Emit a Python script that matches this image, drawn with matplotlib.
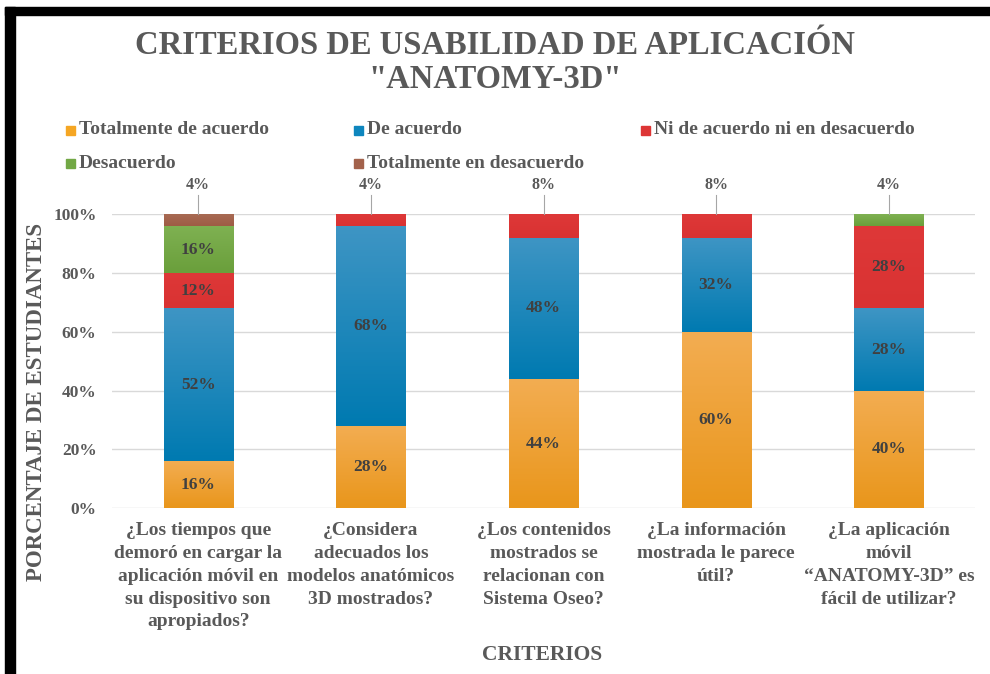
import numpy as np
import matplotlib.pyplot as plt
from matplotlib.colors import LinearSegmentedColormap
from matplotlib.patches import Rectangle

plt.rcParams['font.family'] = ['Liberation Serif', 'DejaVu Serif']
plt.rcParams['font.weight'] = 'bold'

criterios = [
    '¿Los tiempos que\ndemoró en cargar la\naplicación móvil en\nsu dispositivo son\napropiados?',
    '¿Considera\nadecuados los\nmodelos anatómicos\n3D mostrados?',
    '¿Los contenidos\nmostrados se\nrelacionan con\nSistema Oseo?',
    '¿La información\nmostrada le parece\nútil?',
    '¿La aplicación\nmóvil\n“ANATOMY-3D” es\nfácil de utilizar?',
]
series_names = ['Totalmente de acuerdo', 'De acuerdo', 'Ni de acuerdo ni en desacuerdo',
                'Desacuerdo', 'Totalmente en desacuerdo']
totalmente_acuerdo = [16, 28, 44, 60, 40]
de_acuerdo = [52, 68, 48, 32, 28]
ni_acuerdo = [12, 4, 8, 8, 28]
desacuerdo = [16, 0, 0, 0, 4]
totalmente_desacuerdo = [4, 0, 0, 0, 0]
y_ticks = [0, 20, 40, 60, 80, 100]

series = [totalmente_acuerdo, de_acuerdo, ni_acuerdo, desacuerdo, totalmente_desacuerdo]
# (top colour, bottom colour) for the vertical gradient of each series
grad_colors = [('#F3AD52', '#E9961B'), ('#3E95C4', '#007AB1'), ('#DE3838', '#D93232'),
               ('#7FB152', '#6A9F3B'), ('#A86A53', '#9E5C45')]
flat_colors = ['#F5A623', '#0E86BE', '#DD3535', '#72A845', '#A3624B']
text_gray = '#595959'
label_gray = '#404040'

fig = plt.figure(figsize=(9.9, 6.74), dpi=100)
ax = fig.add_axes([0.113, 0.246, 0.872, 0.436])

x = np.arange(len(criterios))
width = 0.4
bottom = np.zeros(len(criterios))
grad = np.linspace(0, 1, 100).reshape(-1, 1)

for k, vals in enumerate(series):
    vals = np.array(vals, dtype=float)
    bars = ax.bar(x, vals, width, bottom=bottom, color=flat_colors[k], zorder=2)
    cmap = LinearSegmentedColormap.from_list('g%d' % k, [grad_colors[k][1], grad_colors[k][0]])
    for rect in bars:
        h = rect.get_height()
        if h <= 0:
            continue
        x0 = rect.get_x()
        y0 = rect.get_y()
        im = ax.imshow(grad, extent=[x0, x0 + rect.get_width(), y0, y0 + h],
                       origin='lower', aspect='auto', cmap=cmap, zorder=2.5)
        im.set_clip_path(rect)
    for i, v in enumerate(vals):
        if v <= 0:
            continue
        top = bottom[i] + v
        if v >= 12:
            ax.text(x[i], bottom[i] + v / 2, '%d%%' % v, ha='center', va='center',
                    fontsize=12.5, color=label_gray, zorder=4)
        elif top >= 100:
            # small top segments get their label above the bar with a leader line
            ax.text(x[i], 110.0, '%d%%' % v, ha='center', va='center',
                    fontsize=11.5, color=text_gray, zorder=4, clip_on=False)
            ax.plot([x[i], x[i]], [106.5, 100], color='#A6A6A6', lw=0.8,
                    zorder=4, clip_on=False)
    bottom += vals

ax.set_xlim(-0.5, 4.5)
ax.set_ylim(0, 100)
ax.set_yticks(y_ticks)
ax.set_yticklabels(['%d%%' % t for t in y_ticks])
ax.set_xticks(x)
ax.set_xticklabels(criterios, linespacing=1.45)
ax.tick_params(axis='both', length=0, colors=text_gray, labelsize=12.5)
ax.tick_params(axis='x', labelsize=14, pad=10)
ax.tick_params(axis='y', pad=11)
ax.grid(axis='y', color='#D9D9D9', lw=1, zorder=0)
ax.set_axisbelow(True)
for s in ax.spines.values():
    s.set_visible(False)

fig.text(37 / 990, 1 - 402 / 674, 'PORCENTAJE DE ESTUDIANTES', rotation=90,
         ha='center', va='center', fontsize=16.5, color=text_gray)
fig.text(0.548, 1 - 655 / 674, 'CRITERIOS', ha='center', va='center',
         fontsize=15.5, color=text_gray)

fig.text(0.5, 1 - 46 / 674, 'CRITERIOS DE USABILIDAD DE APLICACIÓN', ha='center', va='center',
         fontsize=23.5, color=text_gray)
fig.text(0.5, 1 - 80 / 674, '"ANATOMY-3D"', ha='center', va='center', fontsize=23.5,
         color=text_gray)

# legend drawn by hand so the three columns line up like the original
col_x = [66, 354, 641]
row_y = [130, 163]
for k, name in enumerate(series_names):
    cx = col_x[k % 3]
    cy = row_y[k // 3]
    fig.add_artist(Rectangle((cx / 990, 1 - (cy + 5) / 674), 9 / 990, 9 / 674,
                             transform=fig.transFigure, color=flat_colors[k]))
    fig.text((cx + 13) / 990, 1 - cy / 674, name, ha='left', va='center',
             fontsize=14, color=text_gray)

# black frame on the top and left edges
fig.add_artist(Rectangle((5 / 990, 0), 10 / 990, 1 - 7 / 674,
                         transform=fig.transFigure, color='black'))
fig.add_artist(Rectangle((5 / 990, 1 - 15 / 674), 985 / 990, 8 / 674,
                         transform=fig.transFigure, color='black'))

fig.savefig('out.png', dpi=100)
